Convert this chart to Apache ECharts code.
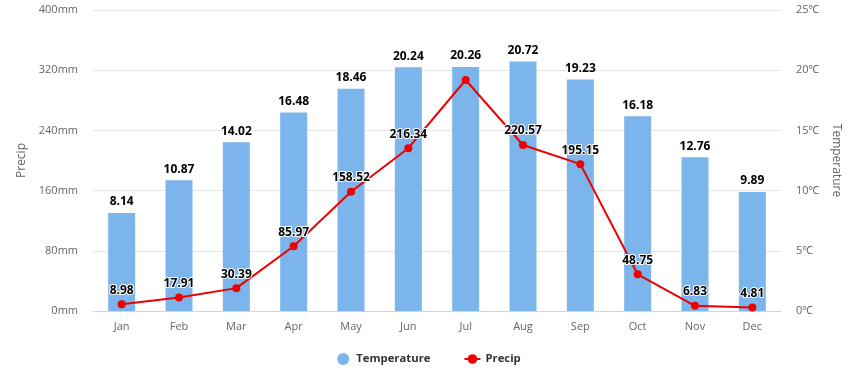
<!DOCTYPE html>
<html><head><meta charset="utf-8">
<script src="https://cdn.jsdelivr.net/npm/echarts@6/dist/echarts.min.js"></script>
<style>html,body{margin:0;padding:0;background:#fff}#c{width:858px;height:386px}</style>
</head><body><div id="c"></div>
<script>
const months = ['Jan','Feb','Mar','Apr','May','Jun','Jul','Aug','Sep','Oct','Nov','Dec'];
const temperature = [8.14,10.87,14.02,16.48,18.46,20.24,20.26,20.72,19.23,16.18,12.76,9.89];
const precip = [8.98,17.91,30.39,85.97,158.52,216.34,307,220.57,195.15,48.75,6.83,4.81];
const hiddenPrecipLabels = ['Jul'];

const font = '"Open Sans", "Noto Sans", sans-serif';
const labelStyle = {show:true, color:'#000', fontWeight:'bold', fontSize:12, fontFamily:font,
  textBorderColor:'#fff', textBorderWidth:2};

const chart = echarts.init(document.getElementById('c'));
chart.setOption({
  animation:false,
  textStyle:{fontFamily:font},
  grid:{left:93, right:77, top:10, bottom:75},
  legend:{bottom:16, left:'center', itemGap:33, itemWidth:16, itemHeight:12,
    textStyle:{color:'#333', fontWeight:'bold', fontSize:11.3, fontFamily:font},
    data:[{name:'Temperature', icon:'circle'}, {name:'Precip'}]},
  xAxis:{type:'category', data:months,
    axisLine:{lineStyle:{color:'#ccd6eb'}}, axisTick:{show:false},
    axisLabel:{color:'#666', fontSize:11, margin:10}},
  yAxis:[
    {type:'value', min:0, max:400, interval:80, name:'Precip', nameLocation:'middle', nameGap:65,
      nameTextStyle:{color:'#666', fontSize:12},
      axisLabel:{formatter:'{value}mm', color:'#666', fontSize:11, margin:15},
      splitLine:{lineStyle:{color:'#e6e6e6'}}, axisLine:{show:false}, axisTick:{show:false}},
    {type:'value', min:0, max:25, interval:5, name:'Temperature', nameLocation:'middle', nameGap:48,
      nameRotate:-90,
      nameTextStyle:{color:'#666', fontSize:12},
      axisLabel:{formatter:'{value}℃', color:'#666', fontSize:11, margin:15},
      splitLine:{show:false}, axisLine:{show:false}, axisTick:{show:false}}
  ],
  series:[
    {name:'Temperature', type:'bar', yAxisIndex:1, data:temperature, barWidth:27,
      itemStyle:{color:'#7cb5ec'},
      label:Object.assign({position:'top', distance:5}, labelStyle)},
    {name:'Precip', type:'line', yAxisIndex:0, z:5,
      data:precip.map((v,i)=> hiddenPrecipLabels.includes(months[i]) ? {value:v, label:{show:false}} : v),
      symbol:'circle', symbolSize:8,
      lineStyle:{color:'#ee0000', width:2}, itemStyle:{color:'#ee0000'},
      label:Object.assign({position:'top', distance:4}, labelStyle)}
  ]
});
</script></body></html>
